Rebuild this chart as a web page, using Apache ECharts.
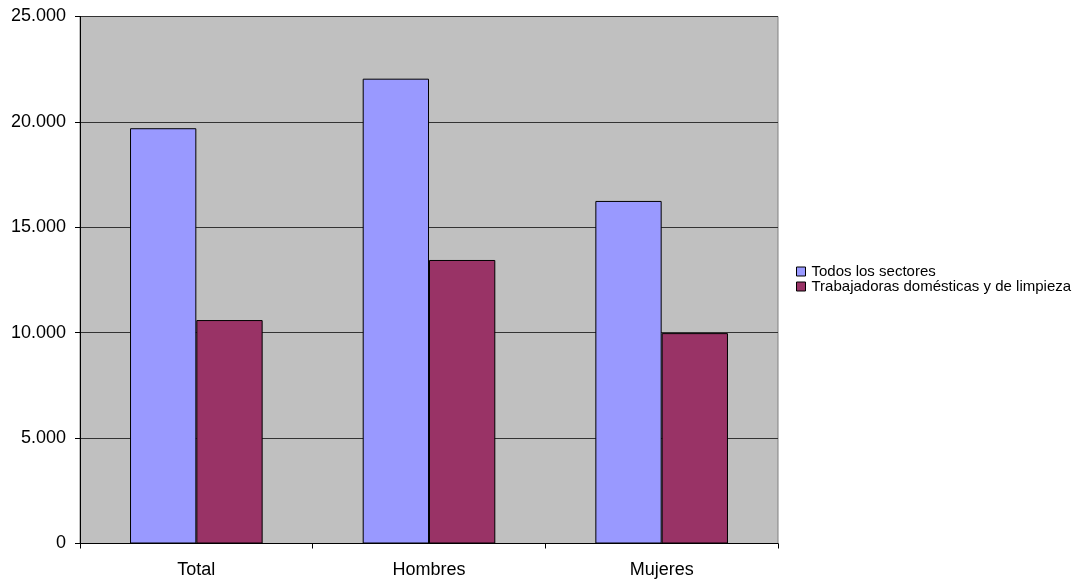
<!DOCTYPE html>
<html>
<head>
<meta charset="utf-8">
<script src="https://cdn.jsdelivr.net/npm/echarts@6/dist/echarts.min.js"></script>
<style>
  html, body { margin: 0; padding: 0; background: #fff; }
  #chart { width: 1075px; height: 580px; }
</style>
</head>
<body>
<div id="chart"></div>
<script>
// Categories and series values
const categories = ['Total', 'Hombres', 'Mujeres'];
const todosLosSectores = [19700, 22050, 16250];
const trabajadorasDomesticas = [10600, 13450, 9980];
const seriesNames = ['Todos los sectores', 'Trabajadoras domésticas y de limpieza'];

// Thousands with a dot separator, e.g. 25.000
function fmt(v) {
  return String(v).replace(/\B(?=(\d{3})+(?!\d))/g, '.');
}

const chart = echarts.init(document.getElementById('chart'));
chart.setOption({
  animation: false,
  textStyle: { fontFamily: 'Liberation Sans, Arial, sans-serif' },
  grid: {
    left: 80, right: 297, top: 16.5, bottom: 36.5,
    show: true,
    backgroundColor: '#c0c0c0',
    borderColor: '#808080',
    borderWidth: 1
  },
  legend: {
    orient: 'vertical',
    left: 796,
    top: 264,
    padding: 0,
    itemWidth: 9,
    itemHeight: 9,
    itemGap: 0,
    icon: 'rect',
    textStyle: { fontSize: 15, lineHeight: 14, color: '#000', padding: [0, 0, 0, 1] },
    data: seriesNames.map(n => ({ name: n, itemStyle: { borderColor: '#000', borderWidth: 1 } }))
  },
  xAxis: {
    type: 'category',
    data: categories,
    axisLine: { lineStyle: { color: '#000', width: 1 } },
    axisTick: { show: true, length: 5, lineStyle: { color: '#000' } },
    axisLabel: { color: '#000', fontSize: 18, margin: 18 }
  },
  yAxis: {
    type: 'value',
    min: 0,
    max: 25000,
    interval: 5000,
    axisLine: { show: true, lineStyle: { color: '#000', width: 1 } },
    axisTick: { show: true, length: 5, lineStyle: { color: '#000' } },
    axisLabel: { color: '#000', fontSize: 18, margin: 14, formatter: v => fmt(v) },
    splitLine: { show: true, lineStyle: { color: '#333', width: 1 } }
  },
  series: [
    {
      name: seriesNames[0],
      type: 'bar',
      data: todosLosSectores,
      barGap: '0%',
      barCategoryGap: '43%',
      itemStyle: { color: '#9999ff', borderColor: '#000', borderWidth: 1 }
    },
    {
      name: seriesNames[1],
      type: 'bar',
      data: trabajadorasDomesticas,
      barGap: '0%',
      barCategoryGap: '43%',
      itemStyle: { color: '#993366', borderColor: '#000', borderWidth: 1 }
    }
  ]
});
</script>
</body>
</html>
